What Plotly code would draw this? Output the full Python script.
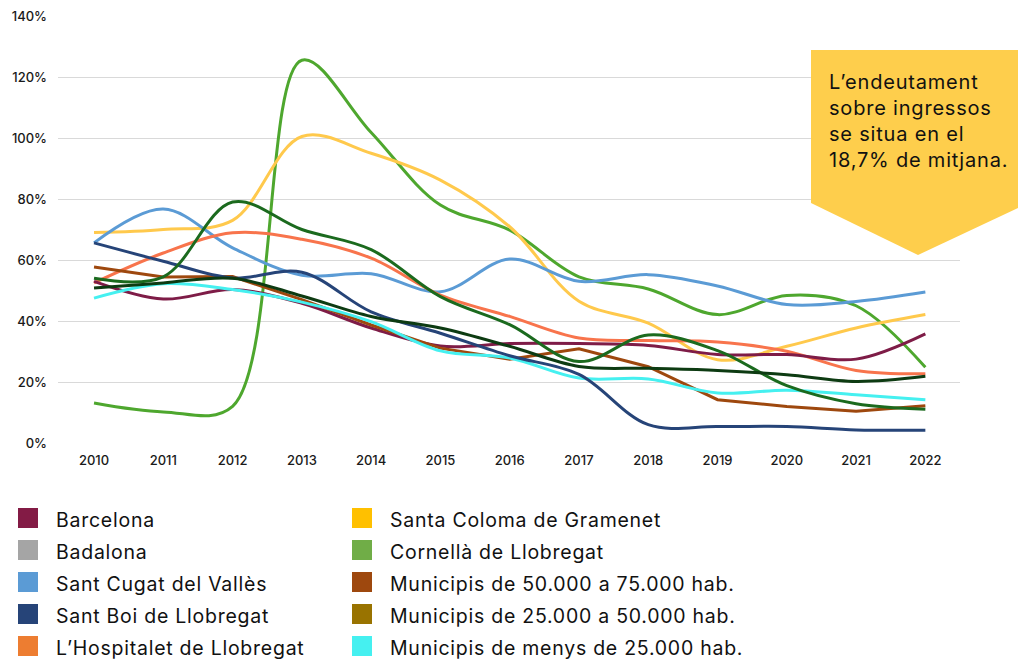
import plotly.graph_objects as go

# Debt over income (%) by municipality, 2010-2022
years = list(range(2010, 2023))

barcelona = [53.0, 47.2, 50.3, 45.8, 37.7, 31.8, 32.6, 32.6, 32.0, 29.0, 29.0, 27.5, 35.8]
badalona = [54.0, 54.5, 79.0, 70.0, 63.4, 48.0, 38.8, 26.7, 35.4, 30.3, 18.8, 12.9, 11.1]
sant_cugat = [65.6, 76.7, 64.0, 55.0, 55.5, 49.6, 60.3, 53.0, 55.2, 51.5, 45.4, 46.4, 49.5]
sant_boi = [65.6, 59.6, 54.1, 56.0, 43.0, 36.0, 28.6, 22.5, 6.0, 5.4, 5.4, 4.3, 4.2]
hospitalet = [52.5, 62.3, 68.9, 66.8, 60.6, 48.5, 41.5, 34.4, 33.6, 33.1, 30.1, 23.8, 22.7]
santa_coloma = [69.0, 70.0, 73.0, 100.5, 95.0, 86.2, 70.9, 46.5, 39.3, 27.3, 31.7, 37.7, 42.1]
cornella = [13.1, 10.2, 12.0, 125.5, 101.8, 78.0, 69.8, 54.5, 50.5, 42.1, 48.4, 45.0, 24.8]
mun_50_75 = [57.7, 54.4, 54.6, 47.0, 38.7, 31.1, 27.5, 30.9, 25.0, 14.2, 12.0, 10.4, 12.2]
mun_25_50 = [50.8, 52.5, 54.0, 48.2, 41.5, 37.7, 31.7, 25.1, 24.5, 23.8, 22.4, 20.2, 21.9]
mun_menys_25 = [47.5, 52.2, 50.3, 46.2, 39.8, 30.2, 27.9, 21.3, 21.0, 16.4, 17.3, 15.8, 14.2]

series_names = [
    "Barcelona", "Badalona", "Sant Cugat del Vallès", "Sant Boi de Llobregat",
    "L’Hospitalet de Llobregat", "Santa Coloma de Gramenet", "Cornellà de Llobregat",
    "Municipis de 50.000 a 75.000 hab.", "Municipis de 25.000 a 50.000 hab.",
    "Municipis de menys de 25.000 hab.",
]
series_values = [
    barcelona, badalona, sant_cugat, sant_boi, hospitalet,
    santa_coloma, cornella, mun_50_75, mun_25_50, mun_menys_25,
]
line_colors = [
    "#7E1C47", "#1B6A1E", "#5B9BD5", "#264478", "#F8744C",
    "#FFC94C", "#4EA72E", "#9E480E", "#0D3B12", "#45F0F0",
]
line_shapes = [
    "spline", "spline", "spline", "spline", "spline",
    "spline", "spline", "linear", "spline", "spline",
]
legend_colors = [
    "#831B45", "#A5A5A5", "#5B9BD5", "#264478", "#ED7D31",
    "#FFC000", "#70AD47", "#9E480E", "#997300", "#45F0F0",
]

y_ticks = [0, 20, 40, 60, 80, 100, 120, 140]
y_tick_text = [f"{v}%" for v in y_ticks]

callout_text = "L’endeutament<br>sobre ingressos<br>se situa en el<br>18,7% de mitjana."

W, H = 1018, 661
ML, MR, MT, MB = 58, 58, 16, 218
PW, PH = W - ML - MR, H - MT - MB


def px(x):
    return (x - ML) / PW


def py(y):
    return (H - MB - y) / PH


fig = go.Figure()
draw_order = [6, 5, 2, 4, 0, 7, 9, 3, 1, 8]
for i in draw_order:
    fig.add_trace(go.Scatter(
        x=years, y=series_values[i], name=series_names[i], mode="lines",
        line=dict(color=line_colors[i], width=3, shape=line_shapes[i], smoothing=1),
        showlegend=False, hoverinfo="x+y+name",
    ))

shapes = []
annotations = []

# callout box with a downward pointer
cx0, cx1, ctop, cbl, cbr, apx, apy = 811, 1020, 50, 203, 207, 918, 255
path = (f"M {px(cx0)} {py(ctop)} L {px(cx1)} {py(ctop)} L {px(cx1)} {py(cbr)} "
        f"L {px(apx)} {py(apy)} L {px(cx0)} {py(cbl)} Z")
shapes.append(dict(type="path", xref="paper", yref="paper", path=path,
                   fillcolor="#FECE4C", line=dict(width=0), layer="above"))
annotations.append(dict(
    x=px(827), y=py(121), xref="paper", yref="paper", xanchor="left", yanchor="middle",
    text=callout_text, showarrow=False, align="left",
    font=dict(family="Inter", size=20, color="#111111"),
))

# legend: two columns of five swatches
col_x = [18, 352]
row_y = [518, 550, 582, 614, 646]
for k, (name, col) in enumerate(zip(series_names, legend_colors)):
    cx = col_x[k // 5]
    cy = row_y[k % 5]
    shapes.append(dict(type="rect", xref="paper", yref="paper",
                       x0=px(cx), x1=px(cx + 20), y0=py(cy - 10), y1=py(cy + 10),
                       fillcolor=col, line=dict(width=0)))
    annotations.append(dict(
        x=px(cx + 36), y=py(cy + 1.5), xref="paper", yref="paper",
        xanchor="left", yanchor="middle", text=name, showarrow=False, align="left",
        font=dict(family="Inter", size=19.5, color="#111111"),
    ))

fig.update_layout(
    width=W, height=H,
    margin=dict(l=ML, r=MR, t=MT, b=MB, pad=0),
    paper_bgcolor="white", plot_bgcolor="white",
    showlegend=False,
    shapes=shapes, annotations=annotations,
    xaxis=dict(
        range=[2009.48, 2022.5], tickmode="array", tickvals=years,
        ticktext=[str(y) for y in years], showgrid=False, zeroline=False,
        showline=False, ticks="", ticklabelstandoff=8, automargin=False,
        tickfont=dict(family="Inter", size=13, color="#1A1A1A", weight=500),
    ),
    yaxis=dict(
        range=[0, 140], tickmode="array", tickvals=y_ticks, ticktext=y_tick_text,
        showgrid=True, gridcolor="#D9D9D9", gridwidth=1, zeroline=False,
        showline=False, ticks="", ticklabelstandoff=10, automargin=False,
        tickfont=dict(family="Inter", size=13, color="#1A1A1A", weight=500),
    ),
)

# a little tracking on the annotation text (left-aligned, so it grows to the right)
post_js = """
var gd = document.getElementById('{plot_id}');
gd.querySelectorAll('text.annotation-text').forEach(function(t){
    t.style.letterSpacing = (t.style.fontSize === '20px') ? '0.8px' : '0.75px';
});
"""

fig.write_html("out.html", post_script=post_js)
